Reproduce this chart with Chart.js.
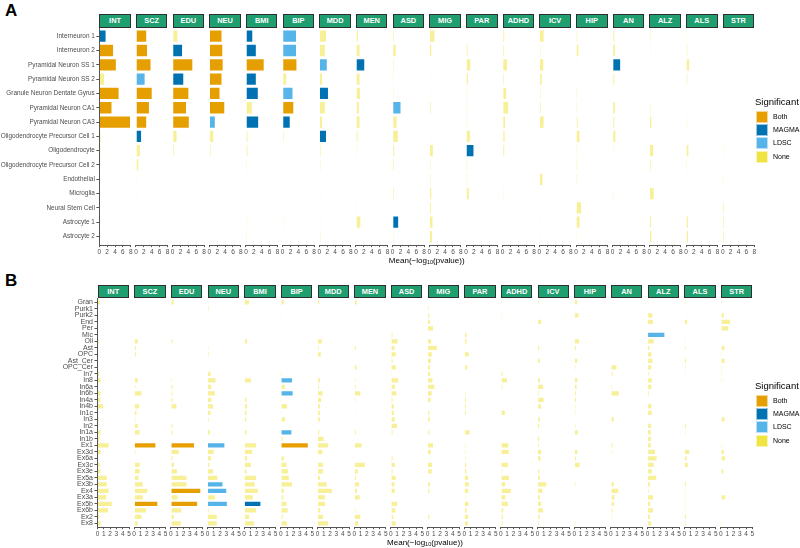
<!DOCTYPE html>
<html>
<head>
<meta charset="utf-8">
<script src="https://cdn.jsdelivr.net/npm/chart.js@4.4.1/dist/chart.umd.min.js"></script>
<style>
  body { margin: 0; background: #fff; }
  #fig { position: relative; width: 800px; height: 548px; overflow: hidden; font-family: "Liberation Sans", Arial, sans-serif; }
  #fig canvas { position: absolute; }
  .strip { position: absolute; box-sizing: border-box; background: #1f9e70; border: 1px solid #2f2f2f; color: #fff; font-weight: bold; font-size: 7.4px; text-align: center; }
  .tag { position: absolute; left: 5px; font-weight: bold; font-size: 17px; line-height: 17px; }
  .xtitle { position: absolute; font-size: 8px; white-space: nowrap; transform: translate(-50%, -50%); }
  .xtitle sub { font-size: 5.5px; vertical-align: -1px; }
  .legtitle { position: absolute; font-size: 9.5px; line-height: 10px; }
  .key { position: absolute; width: 12px; height: 12px; box-sizing: border-box; border: 1px solid rgba(255,255,255,0.6); }
  .keylab { position: absolute; font-size: 7px; line-height: 12px; }
</style>
</head>
<body>
<div id="fig"></div>
<script>
// facets (traits)
const traits = ["INT", "SCZ", "EDU", "NEU", "BMI", "BIP", "MDD", "MEN", "ASD",
                "MIG", "PAR", "ADHD", "ICV", "HIP", "AN", "ALZ", "ALS", "STR"];

// panel A cell types
const cellsA = ["Interneuron 1", "Interneuron 2", "Pyramidal Neuron SS 1", "Pyramidal Neuron SS 2",
  "Granule Neuron Dentate Gyrus", "Pyramidal Neuron CA1", "Pyramidal Neuron CA3",
  "Oligodendrocyte Precursor Cell 1", "Oligodendrocyte", "Oligodendrocyte Precursor Cell 2",
  "Endothelial", "Microglia", "Neural Stem Cell", "Astrocyte 1", "Astrocyte 2"];
const ticksA = [0, 2, 4, 6, 8];

// Mean(-log10 p) per trait, same order as cellsA
const valsA = [
  [1.8, 3.7, 4.4, 1.4, 5.1, 3.3, 8.0, 0.5, 0.4, 0.3, 0.05, 0.05, 0.05, 0.2, 0.05],   // INT
  [2.8, 3.0, 3.9, 2.4, 4.2, 3.5, 2.8, 1.5, 1.2, 0.8, 0.05, 0.05, 0.05, 0.2, 0.2],    // SCZ
  [1.4, 2.6, 5.2, 2.9, 4.2, 3.6, 4.3, 1.2, 0.5, 0.1, 0.05, 0.1, 0.1, 0.2, 0.1],      // EDU
  [3.3, 3.5, 3.6, 3.3, 2.8, 4.0, 1.6, 1.2, 0.5, 0.3, 0.05, 0.1, 0.05, 0.3, 0.1],     // NEU
  [1.8, 2.7, 4.7, 2.7, 3.2, 1.7, 3.3, 0.6, 0.6, 0.4, 0.1, 0.1, 0.1, 0.4, 0.4],       // BMI
  [3.6, 3.6, 3.7, 1.1, 2.7, 2.9, 2.0, 0.4, 0.2, 0.2, 0.1, 0.1, 0.05, 0.3, 0.1],      // BIP
  [1.9, 1.6, 2.1, 0.9, 2.4, 1.6, 0.9, 1.9, 0.5, 0.4, 0.1, 0.3, 0.3, 0.3, 0.4],       // MDD
  [0.7, 1.1, 2.3, 1.1, 1.2, 0.9, 1.1, 0.6, 0.4, 0.1, 0.1, 0.1, 0.3, 1.3, 0.2],       // MEN
  [0.5, 1.0, 0.4, 0.3, 0.3, 2.2, 1.2, 1.5, 0.6, 0.5, 0.1, 0.5, 0.1, 1.6, 0.3],       // ASD
  [1.5, 0.7, 0.2, 0.3, 0.3, 0.5, 0.1, 0.3, 1.1, 0.4, 0.4, 0.7, 0.6, 1.0, 0.9],       // MIG
  [0.2, 0.6, 1.3, 0.7, 0.4, 0.4, 0.4, 1.2, 2.1, 0.5, 0.4, 0.9, 0.05, 0.2, 0.2],      // PAR
  [0.6, 0.5, 1.3, 0.5, 1.1, 1.6, 0.8, 0.7, 0.6, 0.1, 0.1, 0.3, 0.05, 0.1, 0.1],      // ADHD
  [1.3, 0.4, 1.2, 0.8, 0.4, 0.5, 1.3, 0.3, 0.1, 0.1, 1.0, 0.1, 0.3, 0.3, 0.3],       // ICV
  [0.5, 0.8, 0.05, 0.1, 0.4, 0.4, 0.6, 1.1, 0.4, 0.5, 0.4, 0.1, 1.5, 1.1, 0.3],      // HIP
  [0.6, 0.8, 2.1, 0.6, 0.1, 0.8, 0.6, 0.9, 0.3, 0.2, 0.1, 0.3, 0.1, 0.1, 0.1],       // AN
  [0.4, 0.3, 0.2, 0.2, 0.2, 0.4, 0.7, 0.1, 1.2, 0.5, 0.2, 1.3, 0.1, 0.6, 0.7],       // ALZ
  [0.3, 0.5, 1.0, 0.5, 0.1, 0.2, 0.4, 0.1, 0.8, 0.4, 0.1, 0.1, 0.1, 0.7, 0.7],       // ALS
  [0.2, 0.1, 0.2, 0.2, 0.2, 0.2, 0.2, 0.1, 0.3, 0.1, 0.3, 0.2, 0.5, 0.5, 0.5]        // STR
];

// significant cells in panel A (everything else is "None")
const sigA = [
  ["INT", "Interneuron 1", "MAGMA"], ["INT", "Interneuron 2", "Both"], ["INT", "Pyramidal Neuron SS 1", "Both"],
  ["INT", "Granule Neuron Dentate Gyrus", "Both"], ["INT", "Pyramidal Neuron CA1", "Both"], ["INT", "Pyramidal Neuron CA3", "Both"],
  ["SCZ", "Interneuron 1", "Both"], ["SCZ", "Interneuron 2", "Both"], ["SCZ", "Pyramidal Neuron SS 1", "Both"],
  ["SCZ", "Pyramidal Neuron SS 2", "LDSC"], ["SCZ", "Granule Neuron Dentate Gyrus", "Both"], ["SCZ", "Pyramidal Neuron CA1", "Both"],
  ["SCZ", "Pyramidal Neuron CA3", "Both"], ["SCZ", "Oligodendrocyte Precursor Cell 1", "MAGMA"],
  ["EDU", "Interneuron 2", "MAGMA"], ["EDU", "Pyramidal Neuron SS 1", "Both"], ["EDU", "Pyramidal Neuron SS 2", "MAGMA"],
  ["EDU", "Granule Neuron Dentate Gyrus", "Both"], ["EDU", "Pyramidal Neuron CA1", "Both"], ["EDU", "Pyramidal Neuron CA3", "Both"],
  ["NEU", "Interneuron 1", "Both"], ["NEU", "Interneuron 2", "Both"], ["NEU", "Pyramidal Neuron SS 1", "Both"],
  ["NEU", "Pyramidal Neuron SS 2", "Both"], ["NEU", "Granule Neuron Dentate Gyrus", "Both"], ["NEU", "Pyramidal Neuron CA1", "Both"],
  ["NEU", "Pyramidal Neuron CA3", "LDSC"],
  ["BMI", "Interneuron 1", "MAGMA"], ["BMI", "Interneuron 2", "MAGMA"], ["BMI", "Pyramidal Neuron SS 1", "Both"],
  ["BMI", "Pyramidal Neuron SS 2", "MAGMA"], ["BMI", "Granule Neuron Dentate Gyrus", "MAGMA"], ["BMI", "Pyramidal Neuron CA3", "MAGMA"],
  ["BIP", "Interneuron 1", "LDSC"], ["BIP", "Interneuron 2", "LDSC"], ["BIP", "Pyramidal Neuron SS 1", "Both"],
  ["BIP", "Granule Neuron Dentate Gyrus", "LDSC"], ["BIP", "Pyramidal Neuron CA1", "Both"], ["BIP", "Pyramidal Neuron CA3", "MAGMA"],
  ["MDD", "Pyramidal Neuron SS 1", "LDSC"], ["MDD", "Granule Neuron Dentate Gyrus", "MAGMA"], ["MDD", "Oligodendrocyte Precursor Cell 1", "MAGMA"],
  ["MEN", "Pyramidal Neuron SS 1", "MAGMA"],
  ["ASD", "Pyramidal Neuron CA1", "LDSC"], ["ASD", "Astrocyte 1", "MAGMA"],
  ["PAR", "Oligodendrocyte", "MAGMA"],
  ["AN", "Pyramidal Neuron SS 1", "MAGMA"]
];

// panel B cell types
const cellsB = ["Gran", "Purk1", "Purk2", "End", "Per", "Mic", "Oli", "Ast", "OPC", "Ast_Cer", "OPC_Cer",
  "In7", "In8", "In6a", "In6b", "In4a", "In4b", "In1c", "In3", "In2", "In1a", "In1b",
  "Ex1", "Ex3d", "Ex6a", "Ex3c", "Ex3e", "Ex5a", "Ex3b", "Ex4", "Ex3a", "Ex5b", "Ex6b", "Ex2", "Ex8"];
const ticksB = [0, 1, 2, 3, 4, 5];

const valsB = [
  [0.5, 0.05, 0.05, 0.05, 0.05, 0.05, 0.3, 0.1, 0.1, 0.05, 0.05, 0.4, 0.6, 0.1, 0.6, 0.6, 1.0, 0.1, 0.3, 0.2, 0.6, 0.4, 1.9, 0.6, 0.1, 0.5, 0.6, 1.6, 1.6, 1.9, 1.5, 2.4, 1.8, 0.4, 0.6],          // INT
  [0.2, 0.05, 0.05, 0.05, 0.05, 0.05, 0.7, 0.4, 0.4, 0.05, 0.05, 0.1, 0.7, 0.3, 1.3, 0.1, 0.9, 0.5, 0.3, 0.7, 1.0, 0.1, 3.5, 0.3, 0.05, 1.0, 1.0, 0.8, 1.5, 2.2, 1.5, 3.8, 2.0, 1.3, 0.7],        // SCZ
  [0.6, 0.05, 0.05, 0.05, 0.05, 0.05, 0.4, 0.05, 0.05, 0.05, 0.05, 0.1, 0.3, 0.4, 0.4, 0.4, 1.0, 0.1, 0.1, 0.4, 0.4, 0.1, 3.8, 1.4, 0.4, 0.6, 1.1, 2.6, 2.6, 4.8, 1.2, 4.3, 1.8, 0.6, 1.7],       // EDU
  [0.15, 0.25, 0.05, 0.05, 0.05, 0.05, 0.1, 0.2, 0.25, 0.1, 0.05, 0.6, 1.4, 0.7, 1.3, 0.75, 1.0, 0.6, 0.3, 0.1, 0.5, 0.1, 2.8, 1.1, 0.7, 0.4, 1.0, 1.7, 2.5, 3.1, 1.3, 3.2, 0.3, 1.6, 1.6],    // NEU
  [0.9, 0.05, 0.15, 0.05, 0.05, 0.05, 0.6, 0.1, 0.05, 0.05, 0.05, 0.2, 1.2, 0.05, 0.2, 0.5, 0.6, 0.5, 0.45, 0.2, 0.5, 0.1, 2.0, 1.4, 0.6, 1.2, 0.5, 2.0, 1.8, 2.3, 1.5, 2.7, 2.0, 0.9, 1.7],    // BMI
  [0.6, 0.05, 0.2, 0.05, 0.05, 0.05, 0.1, 0.1, 0.05, 0.05, 0.05, 0.3, 1.9, 0.75, 2.0, 0.3, 1.1, 0.2, 0.8, 0.1, 1.8, 0.4, 4.4, 0.1, 0.6, 1.0, 1.3, 1.4, 1.9, 0.6, 0.5, 1.0, 1.2, 0.4, 1.1],     // BIP
  [0.4, 0.05, 0.05, 0.05, 0.1, 0.1, 0.8, 0.3, 0.65, 0.05, 0.1, 0.1, 0.5, 0.3, 0.9, 0.7, 0.5, 0.5, 0.5, 0.1, 0.4, 1.1, 1.8, 0.9, 0.05, 1.0, 1.0, 0.5, 1.6, 2.4, 1.3, 1.3, 0.55, 1.0, 1.8],     // MDD
  [0.55, 0.05, 0.05, 0.05, 0.05, 0.05, 0.1, 0.4, 0.1, 0.05, 0.5, 0.1, 0.3, 0.35, 1.1, 0.3, 0.1, 0.25, 0.1, 0.1, 0.4, 0.05, 1.3, 0.1, 0.05, 1.8, 0.7, 0.4, 0.9, 0.55, 1.0, 0.1, 0.3, 1.1, 0.75], // MEN
  [0.1, 0.1, 0.1, 0.05, 0.1, 0.4, 1.2, 0.7, 0.9, 0.4, 0.9, 0.2, 1.3, 0.75, 1.0, 0.4, 0.6, 0.6, 0.75, 1.1, 0.4, 0.1, 0.1, 0.1, 0.4, 0.75, 0.4, 0.9, 0.7, 0.75, 0.1, 1.1, 0.85, 0.5, 0.9],    // ASD
  [0.1, 0.25, 0.4, 0.5, 1.0, 0.1, 0.7, 1.6, 0.8, 0.65, 0.5, 0.55, 0.9, 1.2, 0.8, 0.6, 0.1, 0.4, 0.5, 0.1, 0.4, 0.1, 1.0, 0.65, 0.1, 0.85, 0.8, 0.1, 0.5, 0.4, 0.1, 0.1, 0.1, 0.4, 0.1],     // MIG
  [0.25, 0.05, 0.2, 0.05, 0.05, 0.5, 0.5, 0.25, 0.85, 0.05, 0.6, 0.05, 0.1, 0.1, 0.3, 0.4, 0.4, 0.4, 0.1, 0.1, 1.0, 0.1, 0.3, 0.3, 0.3, 0.45, 0.45, 0.75, 0.85, 0.75, 0.3, 0.8, 0.5, 0.75, 0.7], // PAR
  [0.2, 0.05, 0.25, 0.05, 0.05, 0.05, 0.05, 0.05, 0.05, 0.1, 0.2, 0.4, 1.1, 0.35, 0.1, 0.1, 0.1, 0.75, 0.1, 0.1, 0.1, 0.1, 1.3, 1.35, 0.1, 1.25, 0.3, 1.4, 0.8, 1.7, 0.85, 1.25, 0.5, 0.45, 0.4], // ADHD
  [0.3, 0.05, 0.1, 0.7, 0.05, 0.1, 0.05, 0.4, 0.05, 0.5, 0.05, 0.05, 0.5, 1.0, 0.3, 1.1, 0.7, 0.05, 0.5, 0.4, 0.05, 0.4, 0.3, 0.7, 0.6, 0.05, 0.4, 0.5, 1.5, 0.9, 0.5, 0.7, 1.0, 0.45, 0.3],  // ICV
  [0.6, 0.05, 0.8, 0.05, 0.05, 0.05, 0.9, 0.4, 0.2, 0.6, 0.3, 0.1, 0.6, 0.5, 0.4, 0.4, 0.3, 0.3, 0.2, 0.3, 0.7, 0.1, 0.05, 0.6, 0.4, 1.0, 0.2, 0.2, 0.3, 0.1, 0.05, 0.1, 0.1, 0.1, 0.3],     // HIP
  [0.1, 0.05, 0.05, 0.05, 0.05, 0.05, 0.05, 0.1, 0.05, 0.05, 1.0, 0.4, 0.1, 0.3, 1.4, 0.05, 0.05, 0.05, 0.6, 0.05, 0.05, 0.05, 0.4, 0.3, 0.05, 0.05, 0.05, 0.05, 0.6, 1.3, 0.7, 0.6, 0.4, 0.3, 0.1], // AN
  [0.2, 0.05, 0.9, 1.0, 0.05, 2.8, 1.1, 0.4, 0.75, 0.9, 0.7, 0.3, 0.8, 0.75, 0.3, 0.1, 0.75, 0.8, 0.1, 0.7, 0.65, 0.65, 0.65, 1.3, 1.55, 1.1, 0.8, 1.5, 0.5, 0.3, 1.0, 0.55, 1.0, 0.5, 0.7], // ALZ
  [0.3, 0.2, 0.2, 0.6, 0.05, 0.05, 0.25, 0.3, 0.1, 0.4, 0.3, 0.2, 0.2, 0.1, 0.05, 0.1, 0.1, 0.1, 0.1, 0.4, 0.3, 0.1, 0.05, 0.9, 0.5, 0.7, 0.1, 0.1, 0.4, 0.3, 0.2, 0.3, 0.3, 0.4, 0.35],     // ALS
  [0.2, 0.1, 0.6, 1.6, 1.3, 0.05, 0.05, 0.7, 0.3, 0.7, 0.3, 0.3, 0.3, 0.1, 0.05, 0.05, 0.05, 0.05, 0.7, 0.05, 0.05, 0.05, 0.3, 0.6, 0.8, 0.05, 0.5, 0.05, 0.05, 0.05, 0.8, 0.05, 0.05, 0.05, 0.3] // STR
];

const sigB = [
  ["SCZ", "Ex1", "Both"], ["SCZ", "Ex5b", "Both"],
  ["EDU", "Ex1", "Both"], ["EDU", "Ex4", "Both"], ["EDU", "Ex5b", "Both"],
  ["NEU", "Ex1", "LDSC"], ["NEU", "Ex3b", "LDSC"], ["NEU", "Ex4", "LDSC"], ["NEU", "Ex5b", "LDSC"],
  ["BMI", "Ex5b", "MAGMA"],
  ["BIP", "In8", "LDSC"], ["BIP", "In6b", "LDSC"], ["BIP", "In1a", "LDSC"], ["BIP", "Ex1", "Both"],
  ["ALZ", "Mic", "LDSC"]
];

const sigLevels = ["Both", "MAGMA", "LDSC", "None"];
const sigColors = ["#E69F00", "#0072B2", "#56B4E9", "#F0E442"];
const noneFill = "rgba(240,228,66,0.55)";

Chart.defaults.font.family = '"Liberation Sans", Arial, sans-serif';

const fig = document.getElementById("fig");
const pitch = 36.67;   // distance between facets
const facetW = 31.5;
const axisH = 16;
const stripH = 13.3;

const panels = [
  { tag: "A", cells: cellsA, vals: valsA, sig: sigA, ticks: ticksA, xMax: 8, x0: 99.3, top: 27.6, rowH: 14.31, fs: 6.4, tagTop: 2, legTop: 97 },
  { tag: "B", cells: cellsB, vals: valsB, sig: sigB, ticks: ticksB, xMax: 5, x0: 97.5, top: 298.4, rowH: 6.5, fs: 7, tagTop: 272, legTop: 381 }
];

function sigOf(list, trait, cell) {
  const hit = list.find(s => s[0] === trait && s[1] === cell);
  return hit ? hit[2] : "None";
}

function addFacet(p, t) {
  const first = t === 0;
  const trait = traits[t];
  const x0 = p.x0 + t * pitch;
  const n = p.cells.length;
  const panelH = (n + 0.2) * p.rowH;
  const top = Math.floor(p.top) - 6;
  const padTop = p.top - top;
  const left = first ? 0 : Math.floor(x0) - 6;
  const padLeft = first ? 0 : x0 - left;
  const width = Math.ceil(x0 - left + facetW + 6);
  const padRight = width - (x0 - left + facetW);
  const height = Math.ceil(padTop + panelH + axisH);
  const padBottom = height - (padTop + panelH + axisH);

  const cv = document.createElement("canvas");
  cv.width = width;
  cv.height = height;
  cv.style.left = left + "px";
  cv.style.top = top + "px";
  fig.appendChild(cv);

  // strip on top of the panel
  const strip = document.createElement("div");
  strip.className = "strip";
  strip.style.left = x0 + "px";
  strip.style.width = facetW + "px";
  strip.style.top = (p.top - stripH) + "px";
  strip.style.height = stripH + "px";
  strip.style.lineHeight = (stripH - 2) + "px";
  strip.textContent = trait;
  fig.appendChild(strip);

  const vals = p.vals[t];
  const sigs = p.cells.map(c => sigOf(p.sig, trait, c));
  const fills = sigs.map(s => s === "None" ? noneFill : sigColors[sigLevels.indexOf(s)]);
  const borders = sigs.map(s => s === "None" ? "rgba(255,255,255,0)" : "rgba(255,255,255,0.45)");

  new Chart(cv, {
    type: "bar",
    data: {
      datasets: [{
        data: vals.map((v, i) => ({ x: v, y: i })),
        backgroundColor: fills,
        borderColor: borders,
        borderWidth: 0.8,
        barPercentage: 0.9,
        categoryPercentage: 1
      }]
    },
    options: {
      indexAxis: "y",
      animation: false,
      responsive: false,
      events: [],
      layout: { padding: { left: padLeft, right: padRight, top: padTop, bottom: padBottom } },
      plugins: { legend: { display: false }, tooltip: { enabled: false } },
      scales: {
        x: {
          type: "linear",
          bounds: "data",
          min: 0,
          max: p.xMax,
          afterBuildTicks: s => { s.min = 0; s.max = p.xMax; s.ticks = p.ticks.map(v => ({ value: v })); },
          afterFit: s => { s.height = axisH; },
          ticks: { font: { size: 6.5 }, color: "#4d4d4d", padding: 1, maxRotation: 0, autoSkip: false },
          grid: { drawOnChartArea: false, drawTicks: true, tickLength: 2, color: "#555" },
          border: { display: true, color: "#555", width: 1 }
        },
        y: {
          type: "linear",
          bounds: "data",
          offset: false,
          display: first,
          reverse: true,
          min: -0.6,
          max: n - 0.4,
          afterBuildTicks: s => {
            s.min = -0.6;
            s.max = n - 0.4;
            s.ticks = p.cells.map((c, i) => ({ value: i }));
          },
          afterFit: s => { s.width = first ? x0 : 0; },
          ticks: { font: { size: p.fs }, color: "#4d4d4d", padding: 1.5, autoSkip: false,
                   callback: v => p.cells[v] },
          grid: { offset: false, drawOnChartArea: false, drawTicks: true, tickLength: 3, color: "#555" },
          border: { display: true, color: "#555", width: 1 }
        }
      }
    }
  });
}

panels.forEach(p => {
  traits.forEach((tr, t) => addFacet(p, t));

  const tag = document.createElement("div");
  tag.className = "tag";
  tag.style.top = p.tagTop + "px";
  tag.textContent = p.tag;
  fig.appendChild(tag);

  const panelBottom = p.top + (p.cells.length + 0.2) * p.rowH;
  const xt = document.createElement("div");
  xt.className = "xtitle";
  xt.style.left = (p.x0 + (traits.length - 1) * pitch + facetW + p.x0) / 2 + "px";
  xt.style.top = (panelBottom + 15) + "px";
  xt.innerHTML = "Mean(\u2212log<sub>10</sub>(pvalue))";
  fig.appendChild(xt);

  // legend
  const lt = document.createElement("div");
  lt.className = "legtitle";
  lt.style.left = "755px";
  lt.style.top = p.legTop + "px";
  lt.textContent = "Significant";
  fig.appendChild(lt);
  sigLevels.forEach((lv, k) => {
    const y = p.legTop + 13.7 + k * 13.3;
    const key = document.createElement("div");
    key.className = "key";
    key.style.left = "756px";
    key.style.top = y + "px";
    key.style.background = sigColors[k];
    fig.appendChild(key);
    const lab = document.createElement("div");
    lab.className = "keylab";
    lab.style.left = "773px";
    lab.style.top = y + "px";
    lab.textContent = lv;
    fig.appendChild(lab);
  });
});
</script>
</body>
</html>
